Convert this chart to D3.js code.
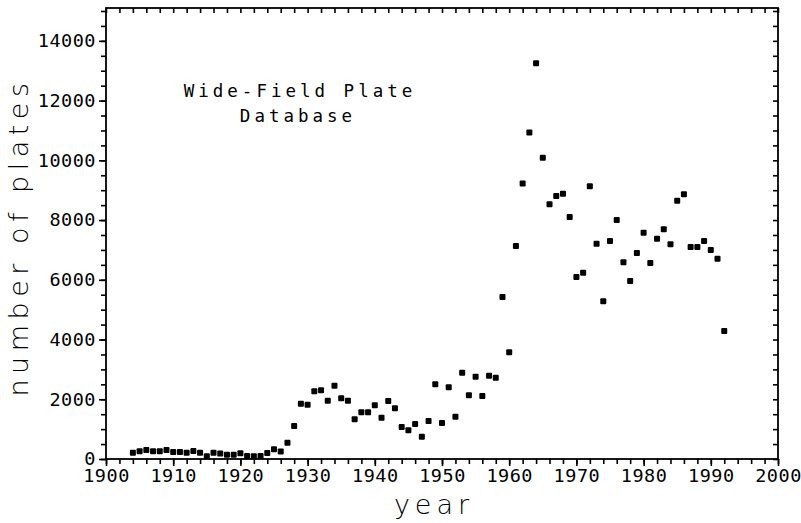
<!DOCTYPE html>
<html>
<head>
<meta charset="utf-8">
<script src="https://cdn.jsdelivr.net/npm/d3@7"></script>
<style>
  body { margin: 0; background: #fff; }
  text { fill: #000; }
</style>
</head>
<body>
<div id="chart"></div>
<script>
// values, one per year
var years = [1904, 1905, 1906, 1907, 1908, 1909, 1910, 1911, 1912, 1913, 1914, 1915, 1916, 1917, 1918, 1919,
    1920, 1921, 1922, 1923, 1924, 1925, 1926, 1927, 1928, 1929, 1930, 1931, 1932, 1933, 1934, 1935, 1936, 1937,
    1938, 1939, 1940, 1941, 1942, 1943, 1944, 1945, 1946, 1947, 1948, 1949, 1950, 1951, 1952, 1953, 1954, 1955,
    1956, 1957, 1958, 1959, 1960, 1961, 1962, 1963, 1964, 1965, 1966, 1967, 1968, 1969, 1970, 1971, 1972, 1973,
    1974, 1975, 1976, 1977, 1978, 1979, 1980, 1981, 1982, 1983, 1984, 1985, 1986, 1987, 1988, 1989, 1990, 1991, 1992];
var plates = [210, 257, 300, 257, 257, 300, 234, 234, 212, 268, 212, 90, 212, 180, 145, 145,
    190, 100, 90, 100, 200, 324, 250, 540, 1105, 1852, 1819, 2267, 2300, 1953, 2455, 2032, 1953, 1330,
    1564, 1564, 1798, 1383, 1942, 1697, 1072, 961, 1172, 747, 1273, 2500, 1206, 2400, 1418, 2890, 2133, 2756,
    2110, 2790, 2723, 5425, 3573, 7133, 9220, 10928, 13252, 10090, 8530, 8808, 8885, 8104, 6095, 6240, 9133, 7210,
    5281, 7301, 8004, 6587, 5961, 6899, 7579, 6564, 7378, 7692, 7190, 8650, 8865, 7100, 7100, 7300, 7000, 6708, 4287];

var xMajor = [1900, 1910, 1920, 1930, 1940, 1950, 1960, 1970, 1980, 1990, 2000];
var yMajor = [0, 2000, 4000, 6000, 8000, 10000, 12000, 14000];

var svgWidth = 801;
var svgHeight = 523;
var margin = { top: 8, right: 23, bottom: 64, left: 106 };
var width = svgWidth - margin.left - margin.right;
var height = svgHeight - margin.top - margin.bottom;

var font = "'DejaVu Sans Mono', monospace";

var svg = d3.select("#chart")
    .append("svg")
    .attr("width", svgWidth)
    .attr("height", svgHeight);

var chartGroup = svg.append("g")
    .attr("transform", `translate(${margin.left}, ${margin.top})`);

var x = d3.scaleLinear().domain([1900, 2000]).range([0, width]);
var y = d3.scaleLinear().domain([0, 15100]).range([height, 0]);

var xMinor = d3.range(1900, 2001, 2);
var yMinor = d3.range(0, 15001, 500);

function styleAxis(g) {
    g.select(".domain").remove();
    g.selectAll("line").attr("stroke", "#000").attr("stroke-width", 1.6);
    g.selectAll("text")
        .attr("font-family", font)
        .attr("font-size", 18.5)
        .attr("letter-spacing", 0.5);
}

// minor ticks
chartGroup.append("g")
    .attr("transform", `translate(0, ${height})`)
    .call(d3.axisBottom(x).tickValues(xMinor).tickSize(5).tickFormat(""))
    .call(styleAxis);
chartGroup.append("g")
    .call(d3.axisBottom(x).tickValues(xMinor).tickSize(5).tickFormat(""))
    .call(styleAxis);
chartGroup.append("g")
    .call(d3.axisLeft(y).tickValues(yMinor).tickSize(5).tickFormat(""))
    .call(styleAxis);
chartGroup.append("g")
    .attr("transform", `translate(${width}, 0)`)
    .call(d3.axisLeft(y).tickValues(yMinor).tickSize(5).tickFormat(""))
    .call(styleAxis);

// major ticks with labels
chartGroup.append("g")
    .attr("transform", `translate(0, ${height})`)
    .call(d3.axisBottom(x).tickValues(xMajor).tickSize(7).tickPadding(3).tickFormat(d3.format("d")))
    .call(styleAxis);
chartGroup.append("g")
    .call(d3.axisLeft(y).tickValues(yMajor).tickSize(7).tickPadding(3).tickFormat(d3.format("d")))
    .call(styleAxis);

// frame
chartGroup.append("rect")
    .attr("width", width)
    .attr("height", height)
    .attr("fill", "none")
    .attr("stroke", "#000")
    .attr("stroke-width", 1.8);

// points
chartGroup.selectAll(".pt")
    .data(years)
    .enter()
    .append("rect")
    .attr("class", "pt")
    .attr("x", (d, i) => x(d) - 3)
    .attr("y", (d, i) => y(plates[i]) - 3)
    .attr("width", 6)
    .attr("height", 6)
    .attr("rx", 1)
    .attr("fill", "#000");

// title
var title = chartGroup.append("text")
    .attr("text-anchor", "middle")
    .attr("font-family", font)
    .attr("font-size", 17.5)
    .attr("letter-spacing", 4);
title.append("tspan")
    .attr("x", 194)
    .attr("y", 89)
    .text("Wide-Field Plate");
title.append("tspan")
    .attr("x", 192)
    .attr("y", 114)
    .text("Database");

// axis labels
svg.append("text")
    .attr("x", 434)
    .attr("y", 514)
    .attr("text-anchor", "middle")
    .attr("font-family", "'DejaVu Sans', sans-serif")
    .attr("font-weight", 300)
    .attr("font-size", 27)
    .attr("letter-spacing", 5)
    .text("year");

svg.append("text")
    .attr("transform", "rotate(-90)")
    .attr("x", -237)
    .attr("y", 28)
    .attr("text-anchor", "middle")
    .attr("font-family", "'DejaVu Sans', sans-serif")
    .attr("font-weight", 300)
    .attr("font-size", 27)
    .attr("letter-spacing", 5.5)
    .text("number of plates");
</script>
</body>
</html>
